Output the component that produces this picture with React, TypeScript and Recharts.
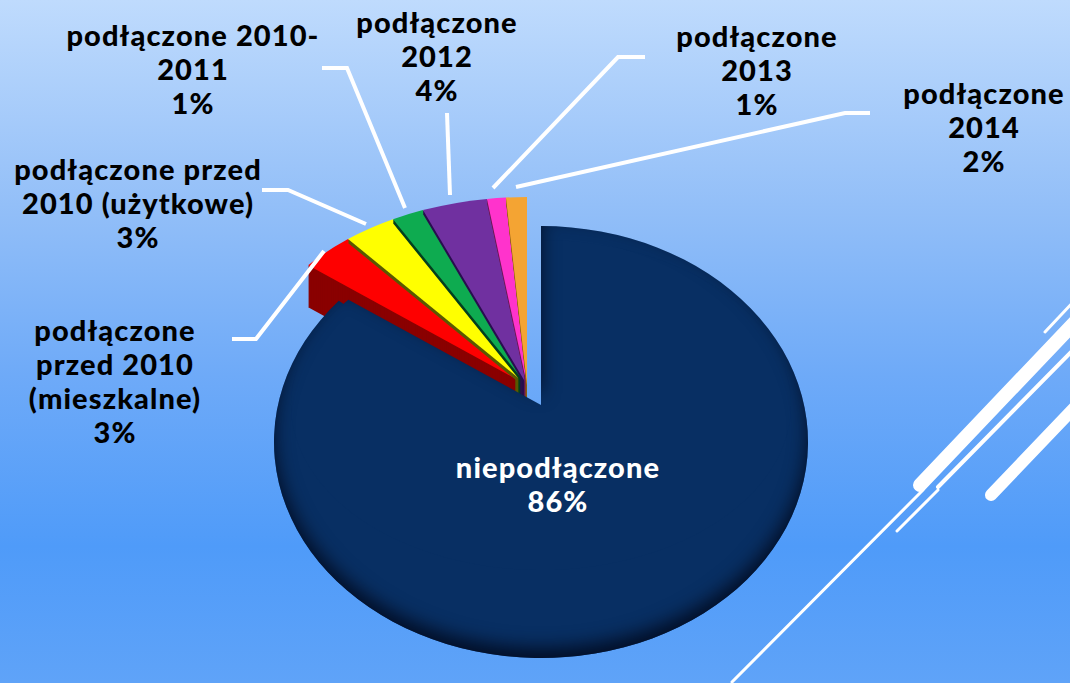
import { Pie, PieChart, Sector } from 'recharts';

const categories = [
  'niepodłączone',
  'podłączone przed 2010 (mieszkalne)',
  'podłączone przed 2010 (użytkowe)',
  'podłączone 2010-2011',
  'podłączone 2012',
  'podłączone 2013',
  'podłączone 2014',
];
const values = [86, 3.15, 3.03, 1.85, 3.72, 1.07, 1.18];
const labelLines = [
  ['niepodłączone', '86%'],
  ['podłączone', 'przed 2010', '(mieszkalne)', '3%'],
  ['podłączone przed', '2010 (użytkowe)', '3%'],
  ['podłączone 2010-', '2011', '1%'],
  ['podłączone', '2012', '4%'],
  ['podłączone', '2013', '1%'],
  ['podłączone', '2014', '2%'],
];

const topColors = ['#082f63', '#fe0000', '#ffff00', '#0eab50', '#7030a0', '#ff33cc', '#f4a433'];
const sideColors = ['#082f63', '#8a0000', '#5a5a00', '#05401f', '#2a1050', '#701a58', '#8a5c12'];
const sideDepths = [0, 42, 4, 4, 4, 4, 4];

// label anchor: centre x, first baseline y
const labelAnchors = [
  [558, 478],
  [115, 341],
  [138, 180],
  [193, 46],
  [437, 33],
  [757, 47],
  [984, 104],
];
const leaderLines = [
  '',
  '232,339 256,339 324,251',
  '262,190 288,190 366,224',
  '322,68 347,68 405,208',
  '447,113 450,195',
  '645,57 618,57 493,188',
  '870,113 845,113 516,187',
];
const decoLines = [
  [1045, 332, 1075, 300, 3],
  [920, 485, 1075, 322, 14],
  [938, 487, 1075, 348, 4],
  [991, 495, 1075, 407, 12],
  [732, 682, 923, 490, 3],
  [897, 531, 938, 490, 3],
];

const rows = categories.map((name, i) => ({
  name,
  value: values[i],
  fill: topColors[i],
  side: sideColors[i],
  depth: sideDepths[i],
  lines: labelLines[i],
  anchor: labelAnchors[i],
  leader: leaderLines[i],
}));

const WIDTH = 1070;
const HEIGHT = 683;
const CX = 541;
const CY = 405;
const RADIUS = 267;

const FAN_DX = -14;
const FAN_DY = -20;
const FAN_SX = 284 / RADIUS;
const FAN_SY = 188 / RADIUS;
const HUB_RADIUS = 18;
const HUB_DEPTH = 24;

function squash(cx: number, cy: number, dx: number, dy: number, sx: number, sy: number) {
  return `translate(${cx + dx} ${cy + dy}) scale(${sx} ${sy}) translate(${-cx} ${-cy})`;
}

// small slices are pulled out of the pie and sit behind the big one
const FanShape = (props: any) => {
  const { name, cx, cy, side, depth, fill, startAngle, endAngle, outerRadius } = props;
  if (name === categories[0]) return <g />;
  const sector = { cx, cy, innerRadius: 0, startAngle, endAngle };
  const drops: number[] = [];
  for (let d = depth; d > 0; d -= 1) drops.push(d);
  const hubDrops: number[] = [];
  for (let d = HUB_DEPTH; d > 0; d -= 1) hubDrops.push(d);
  return (
    <g>
      {hubDrops.map((d) => (
        <g key={`hub-${d}`} transform={squash(cx, cy, FAN_DX, FAN_DY + d, FAN_SX, FAN_SY)}>
          <Sector {...sector} outerRadius={HUB_RADIUS} fill={side} stroke="none" />
        </g>
      ))}
      {drops.map((d) => (
        <g key={d} transform={squash(cx, cy, FAN_DX, FAN_DY + d, FAN_SX, FAN_SY)}>
          <Sector {...sector} outerRadius={outerRadius} fill={side} stroke="none" />
        </g>
      ))}
      <g transform={squash(cx, cy, FAN_DX, FAN_DY, FAN_SX, FAN_SY)}>
        <Sector {...sector} outerRadius={outerRadius} fill={fill} stroke="none" />
      </g>
    </g>
  );
};

// outline is one tall ellipse, the smaller flat copy sets where the wedge apex sits
const MainShape = (props: any) => {
  const { name, cx, cy, fill, startAngle, endAngle, outerRadius } = props;
  if (name !== categories[0]) return <g />;
  const sector = { cx, cy, innerRadius: 0, outerRadius, startAngle };
  return (
    <g filter="url(#rimShade)">
      <g transform={squash(cx, cy, 0, 37, 1, 216 / RADIUS)}>
        <Sector {...sector} endAngle={endAngle - 1.2} fill={fill} stroke="none" />
      </g>
      <g transform={squash(cx, cy, 0, 0, 250 / RADIUS, 165 / RADIUS)}>
        <Sector {...sector} endAngle={endAngle} fill={fill} stroke="none" />
      </g>
    </g>
  );
};

const renderLabel = (props: any) => {
  const [x, y] = props.anchor;
  const white = props.name === categories[0];
  return (
    <text
      x={x}
      y={y}
      textAnchor="middle"
      fill={white ? '#ffffff' : '#000000'}
      style={{ fontFamily: 'Lato, sans-serif', fontWeight: 900, fontSize: 29, letterSpacing: 1.1 }}
    >
      {props.lines.map((line: string, i: number) => (
        <tspan key={line} x={x} y={y + i * 34}>
          {line}
        </tspan>
      ))}
    </text>
  );
};

const renderLeader = (props: any) =>
  props.leader ? (
    <polyline points={props.leader} fill="none" stroke="#ffffff" strokeWidth={4} />
  ) : (
    <g />
  );

export default function App() {
  return (
    <div
      style={{
        position: 'absolute',
        left: 0,
        top: 0,
        width: WIDTH,
        height: HEIGHT,
        overflow: 'hidden',
        background:
          'linear-gradient(180deg, #bfdbfd 0%, #93bff8 30%, #6eaaf8 55%, #4f9bf9 80%, #5fa3f8 100%)',
      }}
    >
      <svg width={WIDTH} height={HEIGHT} style={{ position: 'absolute', left: 0, top: 0 }}>
        <defs>
          <filter
            id="rimShade"
            x="-5%"
            y="-5%"
            width="110%"
            height="110%"
            colorInterpolationFilters="sRGB"
          >
            <feGaussianBlur in="SourceAlpha" stdDeviation="9" result="blur" />
            <feOffset in="blur" dy="-10" result="moved" />
            <feFlood floodColor="#020e26" result="dark" />
            <feComposite in="dark" in2="moved" operator="out" result="rim" />
            <feComposite in="rim" in2="SourceAlpha" operator="in" result="inner" />
            <feMerge>
              <feMergeNode in="SourceGraphic" />
              <feMergeNode in="inner" />
            </feMerge>
          </filter>
        </defs>
        {decoLines.map(([x1, y1, x2, y2, w]) => (
          <line
            key={`${x1}-${y1}`}
            x1={x1}
            y1={y1}
            x2={x2}
            y2={y2}
            stroke="#ffffff"
            strokeWidth={w}
            strokeLinecap="round"
          />
        ))}
      </svg>
      <div style={{ position: 'absolute', left: 0, top: 0 }}>
        <PieChart width={WIDTH} height={HEIGHT} margin={{ top: 0, right: 0, bottom: 0, left: 0 }}>
          <Pie
            data={rows}
            dataKey="value"
            nameKey="name"
            cx={CX}
            cy={CY}
            outerRadius={RADIUS}
            startAngle={90}
            endAngle={-270}
            stroke="none"
            shape={FanShape}
            isAnimationActive={false}
          />
          <Pie
            data={rows}
            dataKey="value"
            nameKey="name"
            cx={CX}
            cy={CY}
            outerRadius={RADIUS}
            startAngle={90}
            endAngle={-270}
            stroke="none"
            shape={MainShape}
            label={renderLabel}
            labelLine={renderLeader}
            isAnimationActive={false}
          />
        </PieChart>
      </div>
    </div>
  );
}
